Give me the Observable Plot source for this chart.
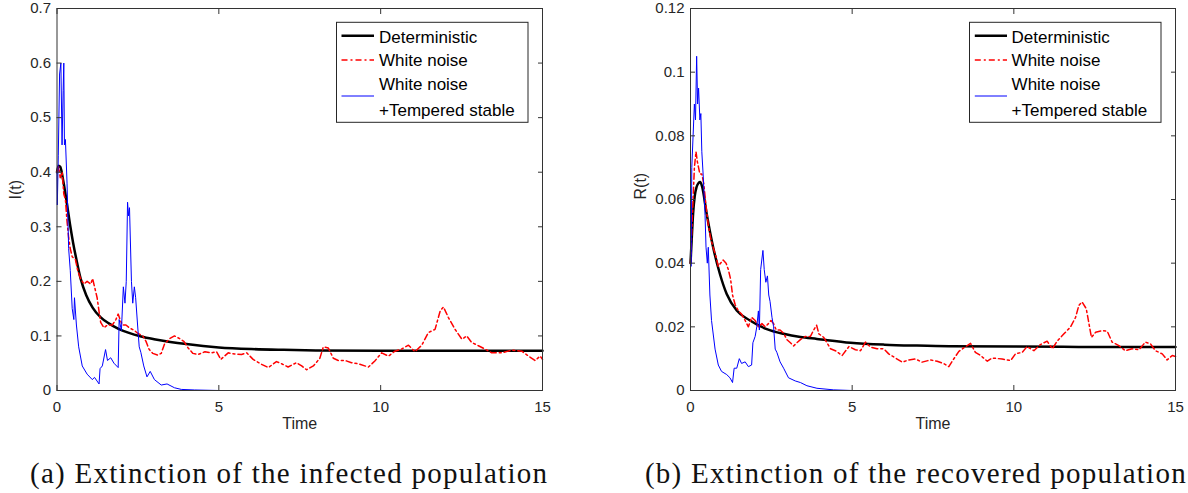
<!DOCTYPE html>
<html>
<head>
<meta charset="utf-8">
<script src="https://cdn.jsdelivr.net/npm/d3@7"></script>
<script src="https://cdn.jsdelivr.net/npm/@observablehq/plot@0.6"></script>
<style>
  html, body { margin: 0; padding: 0; background: #fff; }
  #wrap { position: relative; width: 1188px; height: 493px; overflow: hidden; background: #fff; }
  #pa { position: absolute; left: 0; top: 0; }
  #pb { position: absolute; left: 594px; top: 0; }
  #over { position: absolute; left: 0; top: 0; }
</style>
</head>
<body>
<div id="wrap">
  <div id="pa"></div>
  <div id="pb"></div>
  <svg id="over" width="1188" height="493"></svg>
</div>
<script>
// ---------- data (time, value) ----------
const detI = [[0,0.400],[0.05,0.412],[0.1,0.410],[0.2,0.382],[0.3,0.345],[0.4,0.305],[0.5,0.270],[0.6,0.240],[0.73,0.205],[0.9,0.175],[1.1,0.152],[1.35,0.134],[1.6,0.123],[1.9,0.113],[2.2,0.106],[2.6,0.099],[3.0,0.094],[3.5,0.089],[4.0,0.085],[5.0,0.079],[6.0,0.076],[7.0,0.0745],[8.0,0.0735],[10,0.073],[12,0.073],[15,0.073]];
const wnI = [[0,0.40],[0.05,0.41],[0.1,0.39],[0.16,0.40],[0.21,0.36],[0.26,0.35],[0.31,0.31],[0.36,0.28],[0.41,0.26],[0.47,0.245],[0.57,0.24],[0.64,0.22],[0.73,0.205],[0.83,0.195],[0.93,0.20],[1.04,0.195],[1.10,0.205],[1.16,0.19],[1.24,0.17],[1.31,0.14],[1.35,0.125],[1.45,0.115],[1.56,0.12],[1.71,0.12],[1.82,0.13],[1.89,0.14],[1.95,0.13],[2.02,0.12],[2.13,0.12],[2.23,0.115],[2.39,0.11],[2.49,0.105],[2.65,0.10],[2.75,0.09],[2.85,0.075],[2.96,0.068],[3.11,0.065],[3.22,0.068],[3.32,0.085],[3.48,0.095],[3.63,0.10],[3.79,0.095],[3.92,0.09],[4.05,0.078],[4.20,0.068],[4.36,0.066],[4.57,0.071],[4.77,0.069],[4.93,0.071],[5.06,0.057],[5.29,0.069],[5.49,0.067],[5.70,0.066],[5.86,0.069],[6.06,0.057],[6.32,0.048],[6.53,0.042],[6.78,0.053],[6.94,0.049],[7.14,0.043],[7.40,0.051],[7.56,0.045],[7.71,0.038],[7.92,0.045],[8.12,0.059],[8.23,0.080],[8.38,0.078],[8.54,0.059],[8.69,0.055],[8.90,0.055],[9.10,0.051],[9.31,0.049],[9.62,0.043],[9.82,0.054],[10.03,0.069],[10.24,0.063],[10.44,0.072],[10.65,0.076],[10.86,0.083],[11.06,0.071],[11.27,0.083],[11.47,0.106],[11.68,0.112],[11.84,0.146],[11.94,0.153],[12.09,0.134],[12.30,0.112],[12.51,0.094],[12.66,0.100],[12.81,0.088],[13.02,0.082],[13.22,0.076],[13.43,0.069],[13.74,0.069],[14.05,0.074],[14.36,0.072],[14.57,0.063],[14.77,0.055],[14.93,0.063],[15.0,0.057]];
const tsI = [[0,0.40],[0.01,0.34],[0.04,0.43],[0.08,0.58],[0.12,0.60],[0.156,0.45],[0.19,0.55],[0.21,0.60],[0.23,0.45],[0.26,0.46],[0.31,0.38],[0.36,0.26],[0.41,0.22],[0.47,0.15],[0.52,0.13],[0.54,0.17],[0.60,0.12],[0.67,0.08],[0.78,0.045],[0.93,0.03],[1.09,0.02],[1.16,0.024],[1.30,0.012],[1.33,0.04],[1.40,0.045],[1.50,0.075],[1.56,0.055],[1.66,0.06],[1.76,0.05],[1.89,0.042],[1.92,0.13],[1.99,0.11],[2.05,0.19],[2.10,0.16],[2.14,0.20],[2.18,0.345],[2.21,0.32],[2.24,0.335],[2.30,0.20],[2.34,0.16],[2.39,0.19],[2.43,0.17],[2.49,0.12],[2.54,0.08],[2.59,0.07],[2.68,0.045],[2.78,0.025],[2.88,0.035],[3.01,0.02],[3.22,0.01],[3.40,0.012],[3.63,0.005],[3.84,0.002],[4.25,0.001],[5,0],[10,0],[15,0]];

const detR = [[0,0.040],[0.04,0.048],[0.08,0.0555],[0.13,0.061],[0.19,0.064],[0.25,0.0652],[0.30,0.0655],[0.36,0.064],[0.50,0.0555],[0.70,0.045],[0.91,0.0366],[1.12,0.0303],[1.43,0.0251],[1.84,0.022],[2.36,0.0193],[2.88,0.0178],[3.40,0.0168],[3.91,0.0162],[4.95,0.0150],[6,0.0144],[7,0.0141],[8,0.0139],[10,0.0138],[12,0.0137],[15,0.0137]];
const wnR = [[0,0.040],[0.04,0.05],[0.08,0.06],[0.12,0.07],[0.17,0.075],[0.21,0.072],[0.25,0.07],[0.29,0.068],[0.35,0.068],[0.41,0.065],[0.48,0.058],[0.55,0.052],[0.62,0.048],[0.70,0.045],[0.79,0.042],[0.86,0.039],[0.93,0.04],[1.01,0.041],[1.10,0.04],[1.17,0.038],[1.24,0.035],[1.30,0.03],[1.38,0.027],[1.48,0.025],[1.58,0.024],[1.69,0.022],[1.79,0.02],[1.89,0.023],[2.00,0.022],[2.10,0.02],[2.21,0.021],[2.31,0.02],[2.41,0.021],[2.49,0.022],[2.57,0.021],[2.65,0.019],[2.77,0.019],[2.88,0.018],[2.98,0.016],[3.09,0.015],[3.19,0.014],[3.29,0.015],[3.40,0.016],[3.55,0.017],[3.71,0.017],[3.81,0.019],[3.90,0.0205],[3.97,0.0178],[4.12,0.0167],[4.33,0.0131],[4.48,0.0125],[4.69,0.011],[4.90,0.0138],[5.10,0.0128],[5.26,0.0125],[5.41,0.0152],[5.57,0.0136],[5.77,0.0131],[5.98,0.0131],[6.13,0.0115],[6.34,0.0102],[6.55,0.0089],[6.75,0.0096],[6.96,0.0099],[7.16,0.0089],[7.42,0.0096],[7.63,0.0092],[7.84,0.0084],[7.99,0.0075],[8.14,0.0099],[8.30,0.0123],[8.51,0.0138],[8.66,0.0148],[8.81,0.012],[8.97,0.011],[9.18,0.0092],[9.33,0.0102],[9.64,0.0099],[9.90,0.0094],[10.05,0.0115],[10.26,0.012],[10.41,0.0138],[10.62,0.0125],[10.82,0.0144],[11.03,0.0155],[11.19,0.0131],[11.34,0.0155],[11.55,0.0178],[11.75,0.0199],[11.91,0.023],[12.01,0.0267],[12.11,0.0278],[12.24,0.0257],[12.40,0.0167],[12.53,0.0183],[12.73,0.0188],[12.89,0.0186],[13.04,0.0152],[13.25,0.0141],[13.45,0.0125],[13.66,0.0131],[13.87,0.0128],[14.07,0.0152],[14.23,0.0146],[14.38,0.0125],[14.59,0.0115],[14.74,0.0096],[14.90,0.011],[15.0,0.0107]];
const tsR = [[0,0.04],[0.02,0.039],[0.04,0.07],[0.08,0.08],[0.12,0.09],[0.155,0.085],[0.19,0.105],[0.22,0.09],[0.25,0.095],[0.29,0.085],[0.32,0.087],[0.35,0.075],[0.39,0.068],[0.45,0.055],[0.48,0.045],[0.52,0.04],[0.55,0.045],[0.60,0.03],[0.65,0.022],[0.76,0.013],[0.86,0.008],[0.96,0.006],[1.12,0.005],[1.22,0.004],[1.30,0.0025],[1.35,0.007],[1.43,0.007],[1.51,0.01],[1.58,0.0085],[1.69,0.009],[1.79,0.0075],[1.89,0.008],[1.93,0.015],[2.00,0.017],[2.05,0.02],[2.10,0.025],[2.13,0.019],[2.17,0.038],[2.24,0.044],[2.28,0.038],[2.33,0.034],[2.38,0.036],[2.42,0.03],[2.46,0.028],[2.52,0.023],[2.57,0.02],[2.62,0.013],[2.67,0.012],[2.77,0.009],[2.88,0.007],[3.03,0.004],[3.24,0.003],[3.40,0.0025],[3.60,0.0015],[3.91,0.0007],[4.43,0.0002],[5,0],[10,0],[15,0]];

const xTicks = [0, 5, 10, 15];
const yTicksI = [0, 0.1, 0.2, 0.3, 0.4, 0.5, 0.6, 0.7];
const yTicksR = [0, 0.02, 0.04, 0.06, 0.08, 0.1, 0.12];
const xLabel = "Time";
const yLabelI = "I(t)";
const yLabelR = "R(t)";
const legendLabels = [["Deterministic"], ["White noise"], ["White noise", "+Tempered stable"]];
const captionA = "(a) Extinction of the infected population";
const captionB = "(b) Extinction of the recovered population";

// ---------- styles ----------
const FONT = "'Liberation Sans', Arial, Helvetica, sans-serif";
const INK = "#262626";
const C_DET = "#000000", C_WN = "#ff0000", C_TS = "#0000ff";
const DASH = "6,3,2,3";
const fmt = d => String(+d.toFixed(4));

function panel({det, wn, ts, yTicks, yMax, yLabel, marginLeft, marginRight, yLabelDx}) {
  const rows = a => a.map(([t, v]) => ({t, v}));
  return Plot.plot({
    width: 594, height: 440,
    marginTop: 8, marginBottom: 50, marginLeft, marginRight,
    style: {fontFamily: FONT, fontSize: "15px", color: INK, background: "transparent", overflow: "visible"},
    x: {domain: [0, 15]},
    y: {domain: [0, yMax]},
    marks: [
      Plot.line(rows(det), {x: "t", y: "v", stroke: C_DET, strokeWidth: 2.5, curve: "monotone-x"}),
      Plot.line(rows(wn), {x: "t", y: "v", stroke: C_WN, strokeWidth: 1.5, strokeDasharray: DASH}),
      Plot.line(rows(ts), {x: "t", y: "v", stroke: C_TS, strokeWidth: 1}),
      Plot.frame({stroke: "#333", strokeWidth: 1}),
      Plot.axisX(xTicks, {anchor: "bottom", tickSize: 0, tickPadding: 11, fontSize: 15, fill: INK, tickFormat: fmt, label: null}),
      Plot.axisX(xTicks, {anchor: "bottom", tickSize: -5, stroke: "#333", fill: "none", label: null}),
      Plot.axisX(xTicks, {anchor: "top", tickSize: -5, stroke: "#333", fill: "none", label: null}),
      Plot.axisY(yTicks, {anchor: "left", tickSize: 0, tickPadding: 6, fontSize: 15, fill: INK, tickFormat: fmt, label: null}),
      Plot.axisY(yTicks, {anchor: "left", tickSize: -5, stroke: "#333", fill: "none", label: null}),
      Plot.axisY(yTicks, {anchor: "right", tickSize: -5, stroke: "#333", fill: "none", label: null}),
      Plot.text([xLabel], {frameAnchor: "bottom", dy: 38, fontSize: 16, fill: INK}),
      Plot.text([yLabel], {frameAnchor: "left", dx: yLabelDx, rotate: -90, fontSize: 16, fill: INK})
    ]
  });
}

document.getElementById("pa").append(panel({
  det: detI, wn: wnI, ts: tsI, yTicks: yTicksI, yMax: 0.7, yLabel: yLabelI,
  marginLeft: 56.5, marginRight: 52, yLabelDx: -41.5
}));
document.getElementById("pb").append(panel({
  det: detR, wn: wnR, ts: tsR, yTicks: yTicksR, yMax: 0.12, yLabel: yLabelR,
  marginLeft: 96, marginRight: 13, yLabelDx: -50
}));

// ---------- legends & captions (overlay) ----------
const over = d3.select("#over");
const styles = [
  {color: C_DET, width: 2.5, dash: null},
  {color: C_WN, width: 1.5, dash: DASH},
  {color: C_TS, width: 1, dash: null}
];
function legend(x0, swX0, swX1, txtX) {
  const g = over.append("g");
  g.append("rect").attr("x", x0).attr("y", 22.3).attr("width", 191.5).attr("height", 100)
    .attr("fill", "#fff").attr("stroke", INK).attr("stroke-width", 1);
  const swY = [35.7, 60, 96];
  const textY = [[37.8], [60.5], [84.5, 110]];
  legendLabels.forEach((lines, i) => {
    const s = styles[i];
    g.append("line").attr("x1", swX0).attr("x2", swX1).attr("y1", swY[i]).attr("y2", swY[i])
      .attr("stroke", s.color).attr("stroke-width", s.width).attr("stroke-dasharray", s.dash);
    lines.forEach((t, j) => {
      g.append("text").attr("x", txtX).attr("y", textY[i][j]).attr("dominant-baseline", "central")
        .attr("font-family", FONT).attr("font-size", 17).attr("fill", "#000").text(t);
    });
  });
}
legend(336.5, 341.5, 374, 379);
legend(969.5, 974.8, 1007, 1011.6);

function caption(x, text) {
  return over.append("text").attr("x", x).attr("y", 483)
    .attr("font-family", "'Liberation Serif', 'Times New Roman', serif")
    .attr("font-size", 29).attr("fill", "#111").text(text);
}
const ca = caption(30, captionA);
const lenA = ca.node().getComputedTextLength();
const ls = (517 - lenA) / (captionA.length - 1);
ca.attr("letter-spacing", ls);
const cb = caption(653, captionB).attr("letter-spacing", ls);
const lenB = cb.node().getComputedTextLength();
if (653 + lenB > 1187) cb.attr("x", 1187 - lenB);
</script>
</body>
</html>
